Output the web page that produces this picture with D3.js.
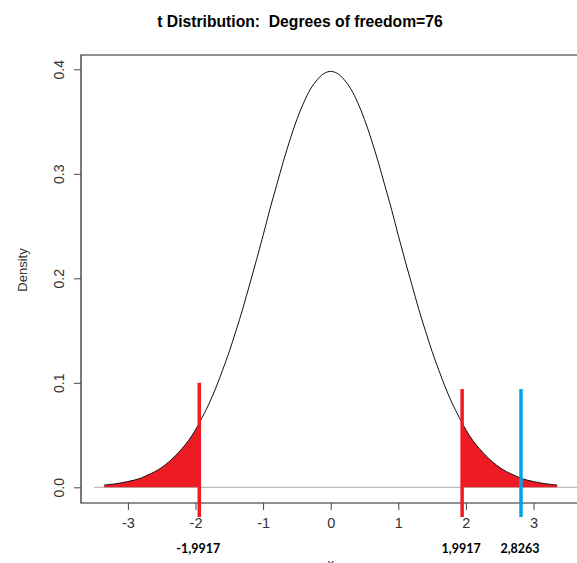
<!DOCTYPE html>
<html>
<head>
<meta charset="utf-8">
<script src="https://cdn.jsdelivr.net/npm/d3@7"></script>
<style>
  body { margin: 0; background: #fff; }
  text { font-family: "Liberation Sans", Arial, sans-serif; }
</style>
</head>
<body>
<div id="chart"></div>
<script>
// t density, df = 76
var xs = [-3.35, -3.3, -3.2, -3.1, -3.0, -2.9, -2.8, -2.7, -2.6, -2.5, -2.4, -2.3, -2.2, -2.1, -2.0,
          -1.9, -1.8, -1.7, -1.6, -1.5, -1.4, -1.3, -1.2, -1.1, -1.0, -0.9, -0.8, -0.7, -0.6,
          -0.5, -0.4, -0.3, -0.2, -0.1, 0.0, 0.1, 0.2, 0.3, 0.4, 0.5, 0.6, 0.7, 0.8, 0.9, 1.0,
          1.1, 1.2, 1.3, 1.4, 1.5, 1.6, 1.7, 1.8, 1.9, 2.0, 2.1, 2.2, 2.3, 2.4, 2.5, 2.6, 2.7,
          2.8, 2.9, 3.0, 3.1, 3.2, 3.3, 3.35];
var density = [0.0022, 0.0025, 0.0032, 0.0042, 0.0055, 0.007, 0.009, 0.012, 0.015, 0.019, 0.024, 0.030, 0.037, 0.045, 0.055,
               0.067, 0.080, 0.095, 0.112, 0.130, 0.150, 0.171, 0.194, 0.217, 0.241, 0.266, 0.289, 0.312, 0.333,
               0.352, 0.368, 0.381, 0.390, 0.396, 0.398, 0.396, 0.390, 0.381, 0.368, 0.352, 0.333, 0.312, 0.289, 0.266, 0.241,
               0.217, 0.194, 0.171, 0.150, 0.130, 0.112, 0.095, 0.080, 0.067, 0.055, 0.045, 0.037, 0.030, 0.024, 0.019, 0.015, 0.012,
               0.009, 0.007, 0.0055, 0.0042, 0.0032, 0.0025, 0.0022];

var xTicks = [-3, -2, -1, 0, 1, 2, 3];
var yTicks = [0.0, 0.1, 0.2, 0.3, 0.4];

// marker lines drawn over the plot
var markX = [-1.944, 1.944, 2.815];
var markLabels = ['-1,9917', '1,9917', '2,8263'];
var markColors = ['#ed1c24', '#ed1c24', '#00a2e8'];
var markTop = [0.1, 0.094, 0.094];

var width = 577, height = 563;

var svg = d3.select('#chart')
    .append('svg')
    .attr('width', width)
    .attr('height', height);

var x = d3.scaleLinear().domain([-3, 3]).range([127.9, 533.5]);
var y = d3.scaleLinear().domain([0, 0.4]).range([487.3, 69.3]);

var pts = xs.map(function(v, i) { return [v, density[i]]; });

// title (keeps the double space)
svg.append('text')
    .attr('x', 300)
    .attr('y', 27)
    .attr('text-anchor', 'middle')
    .attr('font-size', '15.7px')
    .attr('font-weight', 'bold')
    .style('white-space', 'pre')
    .text('t Distribution:  Degrees of freedom=76');

// zero line
svg.append('line')
    .attr('x1', x(-3.5)).attr('x2', width)
    .attr('y1', y(0)).attr('y2', y(0))
    .attr('stroke', '#aaa')
    .attr('stroke-width', 1);

// red tails, clipped at the red lines
var defs = svg.append('defs');
defs.append('clipPath').attr('id', 'tails')
    .selectAll('rect')
    .data([[-4, markX[0]], [markX[1], 4]])
    .enter()
    .append('rect')
    .attr('x', function(d) { return x(d[0]); })
    .attr('width', function(d) { return x(d[1]) - x(d[0]); })
    .attr('y', 0)
    .attr('height', height);

var area = d3.area()
    .x(function(d) { return x(d[0]); })
    .y0(y(0))
    .y1(function(d) { return y(d[1]); })
    .curve(d3.curveCatmullRom);

svg.append('path')
    .datum(pts)
    .attr('clip-path', 'url(#tails)')
    .attr('fill', '#ed1c24')
    .attr('d', area);

var line = d3.line()
    .x(function(d) { return x(d[0]); })
    .y(function(d) { return y(d[1]); })
    .curve(d3.curveCatmullRom);

svg.append('path')
    .datum(pts)
    .attr('fill', 'none')
    .attr('stroke', '#111')
    .attr('stroke-width', 1)
    .attr('d', line);

// frame (right side runs off the picture)
svg.append('path')
    .attr('d', 'M' + (width + 2) + ',55H81V503H' + (width + 2))
    .attr('fill', 'none')
    .attr('stroke', '#222')
    .attr('stroke-width', 1.2);

// x axis
var xAxis = svg.append('g')
    .attr('transform', 'translate(0,503)')
    .call(d3.axisBottom(x).tickValues(xTicks).tickSize(7).tickPadding(8)
        .tickFormat(function(d) { return d; }));
xAxis.select('.domain').remove();
xAxis.selectAll('line').attr('stroke', '#444');
xAxis.selectAll('text')
    .attr('font-size', '14.5px')
    .attr('fill', '#333')
    .attr('font-family', '"Liberation Sans", Arial, sans-serif');

// y axis
var yAxis = svg.append('g')
    .attr('transform', 'translate(81,0)')
    .call(d3.axisLeft(y).tickValues(yTicks).tickSize(7).tickFormat(d3.format('.1f')));
yAxis.select('.domain').remove();
yAxis.selectAll('line').attr('stroke', '#444');
yAxis.selectAll('text')
    .attr('font-size', '14px')
    .attr('fill', '#333')
    .attr('font-family', '"Liberation Sans", Arial, sans-serif')
    .attr('text-anchor', 'middle')
    .attr('x', 0)
    .attr('dy', 0)
    .attr('transform', 'translate(-22,0) rotate(-90)')
    .attr('dominant-baseline', 'central');

svg.append('text')
    .attr('transform', 'translate(22,270) rotate(-90)')
    .attr('text-anchor', 'middle')
    .attr('dominant-baseline', 'central')
    .attr('font-size', '13px')
    .attr('fill', '#333')
    .text('Density');

// axis title, cut by the bottom edge as in the original
svg.append('text')
    .attr('x', x(0))
    .attr('y', 568)
    .attr('text-anchor', 'middle')
    .attr('font-size', '13px')
    .attr('fill', '#333')
    .text('x');

// marker lines and their labels
svg.selectAll('.mark')
    .data(markX)
    .enter()
    .append('line')
    .attr('class', 'mark')
    .attr('x1', function(d) { return x(d); })
    .attr('x2', function(d) { return x(d); })
    .attr('y1', function(d, i) { return y(markTop[i]); })
    .attr('y2', 517)
    .attr('stroke', function(d, i) { return markColors[i]; })
    .attr('stroke-width', 3.5);

svg.selectAll('.marklabel')
    .data(markX)
    .enter()
    .append('text')
    .attr('class', 'marklabel')
    .attr('x', function(d) { return x(d) - 1; })
    .attr('y', 553)
    .attr('text-anchor', 'middle')
    .attr('font-size', '12.5px')
    .attr('font-weight', 'bold')
    .style('font-family', 'Lato, "Open Sans", sans-serif')
    .text(function(d, i) { return markLabels[i]; });
</script>
</body>
</html>
